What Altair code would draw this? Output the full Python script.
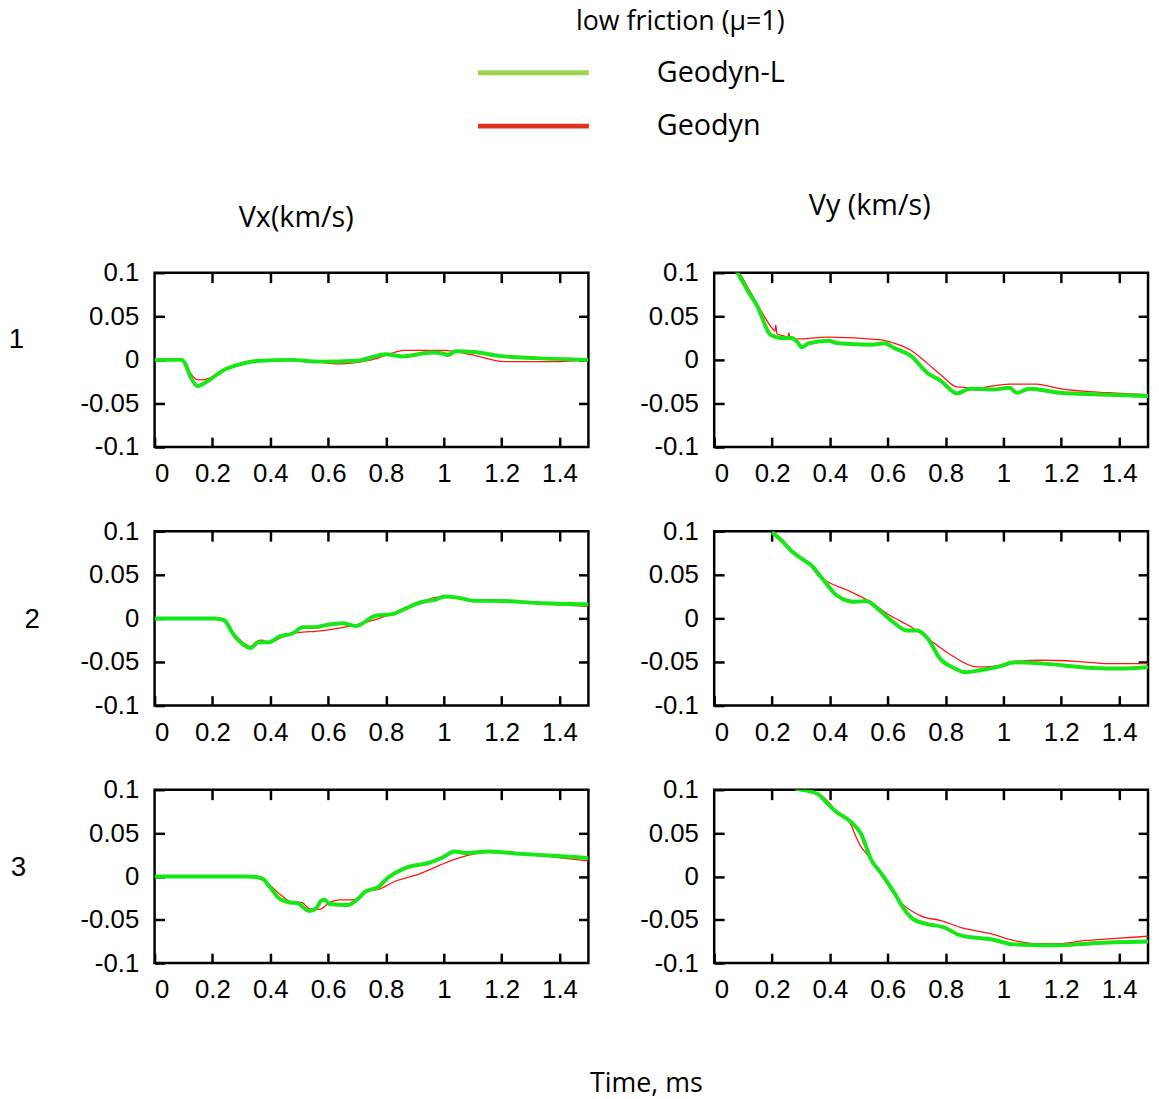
import altair as alt
import pandas as pd

SERIES = ["Geodyn-L", "Geodyn"]
LINE_GREEN = "#17e617"
LINE_RED = "#ff1414"
LEG_GREEN = "#9fd44f"
LEG_RED = "#e0321c"

X_TICKS = [0, 0.2, 0.4, 0.6, 0.8, 1, 1.2, 1.4]
Y_TICKS = [-0.1, -0.05, 0, 0.05, 0.1]
X_DOMAIN = [0, 1.5]
Y_DOMAIN = [-0.1, 0.1]

ROW_LABELS = ["1", "2", "3"]
COL_TITLES = ["Vx(km/s)", "Vy (km/s)"]
LEGEND_TITLE = "low friction (\u03bc=1)"
X_TITLE = "Time, ms"

# ---- curves: [time (ms), velocity (km/s)] ----
vx1_geodyn_l = [[0, 0], [0.095, 0], [0.105, -0.004], [0.125, -0.02], [0.148, -0.030], [0.18, -0.025],
                [0.24, -0.0115], [0.285, -0.006], [0.365, -0.001], [0.47, 0], [0.57, -0.002],
                [0.70, -0.001], [0.80, 0.0065], [0.855, 0.004], [0.96, 0.0085], [1.0, 0.007],
                [1.015, 0.0055], [1.04, 0.01], [1.105, 0.009], [1.19, 0.0046], [1.32, 0.002], [1.5, 0]]
vx1_geodyn = [[0, 0], [0.095, 0], [0.105, -0.004], [0.13, -0.018], [0.15, -0.023], [0.18, -0.022],
              [0.24, -0.0115], [0.29, -0.005], [0.37, -0.001], [0.47, 0], [0.55, -0.002],
              [0.64, -0.0046], [0.75, 0], [0.867, 0.011], [1.0, 0.011], [1.095, 0.006],
              [1.21, -0.002], [1.38, -0.002], [1.5, 0]]

vy1_geodyn_l = [[0.06, 0.11], [0.08, 0.1], [0.12, 0.077], [0.149, 0.0615], [0.166, 0.048], [0.194, 0.029],
                [0.234, 0.025], [0.268, 0.025], [0.286, 0.021], [0.303, 0.0146], [0.326, 0.019],
                [0.394, 0.022], [0.43, 0.019], [0.543, 0.0173], [0.588, 0.019], [0.623, 0.0135],
                [0.68, 0.0046], [0.737, -0.015], [0.783, -0.024], [0.84, -0.0385], [0.885, -0.033],
                [0.965, -0.034], [1.022, -0.032], [1.045, -0.0377], [1.09, -0.033], [1.194, -0.0377],
                [1.365, -0.040], [1.5, -0.0415]]
vy1_geodyn = [[0.06, 0.11], [0.086, 0.1], [0.12, 0.081], [0.166, 0.054], [0.2, 0.0365], [0.21, 0.033],
              [0.213, 0.04], [0.217, 0.03], [0.246, 0.027], [0.255, 0.026], [0.258, 0.031],
              [0.262, 0.026], [0.28, 0.024], [0.394, 0.026], [0.577, 0.023], [0.623, 0.019],
              [0.68, 0.011], [0.737, -0.004], [0.783, -0.017], [0.84, -0.031], [0.908, -0.032],
              [1.022, -0.0277], [1.114, -0.0277], [1.194, -0.033], [1.365, -0.0377], [1.5, -0.040]]

vx2_geodyn_l = [[0, 0], [0.211, 0], [0.24, -0.002], [0.274, -0.019], [0.297, -0.0274], [0.331, -0.034],
                [0.36, -0.0274], [0.394, -0.0274], [0.433, -0.0207], [0.479, -0.017], [0.513, -0.010],
                [0.559, -0.010], [0.593, -0.0075], [0.65, -0.0056], [0.696, -0.0086], [0.764, 0.003],
                [0.821, 0.0049], [0.867, 0.0113], [0.924, 0.0188], [0.97, 0.0214], [1.004, 0.0252],
                [1.05, 0.0237], [1.106, 0.0203], [1.209, 0.0199], [1.323, 0.0177], [1.5, 0.0162]]
vx2_geodyn = [[0, 0], [0.211, 0], [0.24, -0.002], [0.274, -0.017], [0.30, -0.026], [0.331, -0.032],
              [0.355, -0.026], [0.37, -0.025], [0.394, -0.0274], [0.468, -0.0177], [0.582, -0.0139],
              [0.696, -0.0075], [0.81, 0.0038], [0.924, 0.0195], [0.981, 0.0244], [1.015, 0.0244],
              [1.106, 0.0203], [1.209, 0.0195], [1.323, 0.017], [1.5, 0.0139]]

vy2_geodyn_l = [[0.2, 0.099], [0.234, 0.089], [0.268, 0.077], [0.314, 0.066], [0.33, 0.0625], [0.371, 0.047],
                [0.423, 0.0265], [0.463, 0.020], [0.49, 0.019], [0.525, 0.020], [0.577, 0.0076],
                [0.611, -0.002], [0.668, -0.014], [0.703, -0.014], [0.737, -0.0227], [0.783, -0.047],
                [0.828, -0.0568], [0.868, -0.0617], [0.92, -0.0595], [0.988, -0.055], [1.04, -0.0504],
                [1.137, -0.0519], [1.308, -0.0568], [1.4, -0.0576], [1.5, -0.056]]
vy2_geodyn = [[0.2, 0.099], [0.234, 0.091], [0.268, 0.077], [0.326, 0.064], [0.36, 0.049], [0.394, 0.0417],
              [0.463, 0.032], [0.531, 0.0208], [0.611, 0.0027], [0.68, -0.0095], [0.737, -0.0227],
              [0.817, -0.0417], [0.908, -0.0557], [0.965, -0.055], [1.045, -0.0492], [1.137, -0.048],
              [1.251, -0.0492], [1.365, -0.0519], [1.5, -0.0519]]

vx3_geodyn_l = [[0, 0], [0.32, 0], [0.37, -0.002], [0.40, -0.013], [0.433, -0.026], [0.468, -0.030],
                [0.496, -0.0307], [0.513, -0.0356], [0.536, -0.040], [0.559, -0.0367], [0.576, -0.028],
                [0.588, -0.027], [0.605, -0.0318], [0.667, -0.033], [0.696, -0.028], [0.73, -0.0174],
                [0.776, -0.0117], [0.80, -0.0034], [0.833, 0.0042], [0.878, 0.011], [0.947, 0.0155],
                [0.992, 0.0212], [1.038, 0.0288], [1.078, 0.0269], [1.152, 0.0288], [1.266, 0.026],
                [1.38, 0.0239], [1.5, 0.0212]]
vx3_geodyn = [[0, 0], [0.32, 0], [0.388, -0.007], [0.433, -0.0205], [0.479, -0.030], [0.508, -0.030],
              [0.536, -0.0375], [0.57, -0.038], [0.605, -0.030], [0.64, -0.027], [0.684, -0.027],
              [0.741, -0.0167], [0.776, -0.0148], [0.833, -0.0053], [0.90, 0.0011], [0.958, 0.0087],
              [1.004, 0.0155], [1.05, 0.0212], [1.152, 0.0277], [1.266, 0.026], [1.38, 0.0223], [1.5, 0.018]]

vy3_geodyn_l = [[0.28, 0.101], [0.303, 0.1], [0.36, 0.0947], [0.383, 0.087], [0.417, 0.0758], [0.474, 0.0625],
                [0.508, 0.049], [0.543, 0.019], [0.577, 0.0038], [0.623, -0.019], [0.657, -0.038],
                [0.691, -0.050], [0.737, -0.055], [0.794, -0.0587], [0.851, -0.068], [0.965, -0.073],
                [1.034, -0.0784], [1.194, -0.0795], [1.308, -0.077], [1.5, -0.075]]
vy3_geodyn = [[0.28, 0.101], [0.303, 0.099], [0.371, 0.093], [0.417, 0.0776], [0.474, 0.0587], [0.49, 0.046],
              [0.508, 0.034], [0.531, 0.0246], [0.577, 0.0019], [0.645, -0.030], [0.714, -0.0455],
              [0.783, -0.051], [0.851, -0.0587], [0.965, -0.067], [1.034, -0.0739], [1.137, -0.0777],
              [1.194, -0.0777], [1.285, -0.0739], [1.365, -0.072], [1.5, -0.069]]

# ---- styling ----
TICK = 10
TICK_W = 2.5
NUM_FONT = "Liberation Sans"
TXT_FONT = "Open Sans"
W = 438
HEIGHTS = [176, 176, 175]


def frame(points, series):
    return pd.DataFrame({"t": [p[0] for p in points], "v": [p[1] for p in points], "series": series})


def common_axis(**kw):
    base = dict(offset=-TICK, tickSize=TICK, tickWidth=TICK_W, tickColor="black",
                domain=False, grid=False, labelFont=NUM_FONT, labelFontSize=26,
                labelColor="black", labelExpr="'' + datum.value")
    base.update(kw)
    return alt.Axis(**base)


def panel(green_pts, red_pts, height, row_label=None, row_pos=None, title=None,
          x_title=False, legend=False):
    xs = alt.Scale(domain=X_DOMAIN, nice=False, zero=False)
    ys = alt.Scale(domain=Y_DOMAIN, nice=False, zero=False)

    if x_title:
        bottom = common_axis(orient="bottom", values=X_TICKS, labelPadding=14, title=X_TITLE,
                             titleX=496, titleY=140, titleAlign="center", titleBaseline="alphabetic",
                             titleFont=TXT_FONT, titleFontSize=27, titleFontWeight="normal",
                             titleColor="black")
    else:
        bottom = common_axis(orient="bottom", values=X_TICKS, labelPadding=14, title=None)
    if row_label:
        left = common_axis(orient="left", values=Y_TICKS, labelPadding=16, title=row_label,
                           titleAngle=0, titleX=row_pos[0], titleY=row_pos[1], titleAlign="center",
                           titleBaseline="middle", titleFont=NUM_FONT, titleFontSize=28,
                           titleFontWeight="normal", titleColor="black")
    else:
        left = common_axis(orient="left", values=Y_TICKS, labelPadding=16, title=None)
    top = common_axis(orient="top", values=X_TICKS[1:], labels=False, title=None)
    right = common_axis(orient="right", values=Y_TICKS[1:-1], labels=False, title=None)

    red = alt.Chart(frame(red_pts, "Geodyn")).mark_line(
        clip=True, color=LINE_RED, strokeWidth=1.3, interpolate="monotone").encode(
        x=alt.X("t:Q", scale=xs, axis=bottom),
        y=alt.Y("v:Q", scale=ys, axis=left))
    green = alt.Chart(frame(green_pts, "Geodyn-L")).mark_line(
        clip=True, color=LINE_GREEN, strokeWidth=4, interpolate="monotone").encode(
        x=alt.X("t:Q", scale=xs, axis=top),
        y=alt.Y("v:Q", scale=ys, axis=right))
    layers = [red, green]

    if legend:
        leg_df = pd.DataFrame({"t": [None, None], "v": [None, None], "series": SERIES})
        leg = alt.Chart(leg_df).mark_line(strokeWidth=5).encode(
            x=alt.X("t:Q", scale=xs, axis=None),
            y=alt.Y("v:Q", scale=ys, axis=None),
            color=alt.Color("series:N", scale=alt.Scale(domain=SERIES, range=[LEG_GREEN, LEG_RED]),
                            legend=alt.Legend(
                                orient="none", legendX=324, legendY=-266,
                                title=LEGEND_TITLE, titleFont=TXT_FONT, titleFontSize=27,
                                titleFontWeight="normal", titleColor="black", titleAnchor="end",
                                titlePadding=22, titleLimit=500,
                                symbolType="stroke", symbolSize=12544, symbolStrokeWidth=5,
                                labelFont=TXT_FONT, labelFontSize=29, labelColor="black",
                                labelOffset=66, labelLimit=400, clipHeight=30, rowPadding=24,
                                padding=0)))
        layers.append(leg)

    props = dict(width=W, height=height)
    if title is not None:
        props["title"] = title
    return alt.layer(*layers).resolve_axis(x="independent", y="independent").properties(**props)


def col_title(text, dx, offset):
    return alt.TitleParams(text=text, font=TXT_FONT, fontSize=29, fontWeight="normal",
                           color="black", anchor="middle", dx=dx, offset=offset)


p11 = panel(vx1_geodyn_l, vx1_geodyn, HEIGHTS[0], ROW_LABELS[0], (-150, 67),
            title=col_title(COL_TITLES[0], -76, 27), legend=True)
p12 = panel(vy1_geodyn_l, vy1_geodyn, HEIGHTS[0], title=col_title(COL_TITLES[1], -62, 39))
p21 = panel(vx2_geodyn_l, vx2_geodyn, HEIGHTS[1], ROW_LABELS[1], (-134, 89))
p22 = panel(vy2_geodyn_l, vy2_geodyn, HEIGHTS[1])
p31 = panel(vx3_geodyn_l, vx3_geodyn, HEIGHTS[2], ROW_LABELS[2], (-148, 79), x_title=True)
p32 = panel(vy3_geodyn_l, vy3_geodyn, HEIGHTS[2])

chart = alt.concat(p11, p12, p21, p22, p31, p32, columns=2,
                   spacing={"row": 85, "column": 127}, bounds="flush").configure_view(
    stroke="black", strokeWidth=2.5).properties(
    padding={"left": -2, "top": -4, "right": 0, "bottom": 0})

chart.save("out.html", embed_options={"renderer": "svg", "actions": False})
